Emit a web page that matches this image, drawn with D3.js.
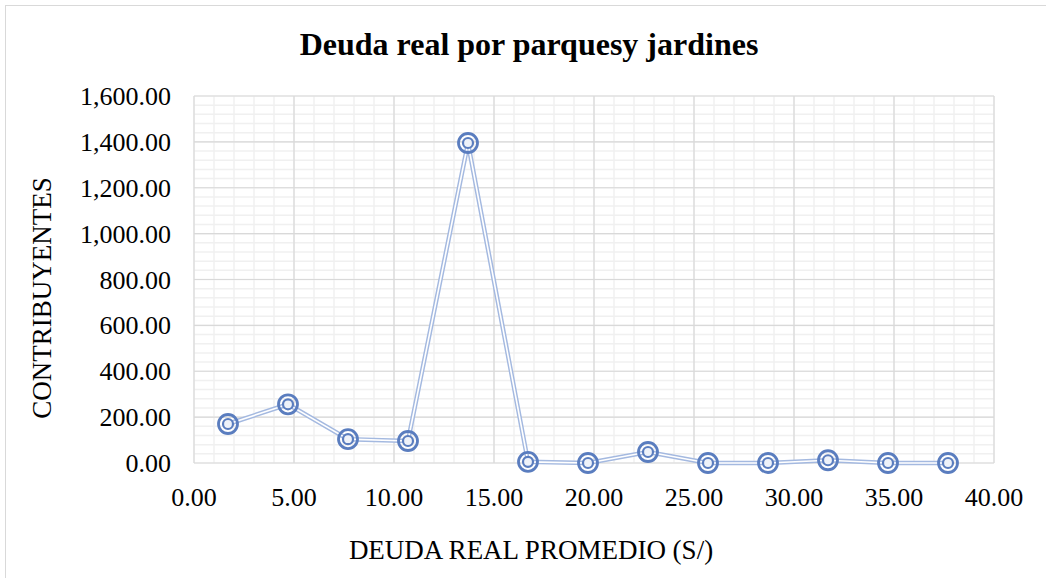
<!doctype html>
<html lang="es">
<head>
  <meta charset="utf-8">
  <title>Deuda real por parquesy jardines</title>
  <script src="https://cdnjs.cloudflare.com/ajax/libs/d3/7.8.5/d3.min.js"></script>
  <style>
    body { margin: 0; background: #fff; }
  </style>
</head>
<body>
  <svg width="1046" height="578" id="svg" font-family="'Liberation Serif', 'Times New Roman', 'DejaVu Serif', serif"></svg>
<script>
  // values
  var deuda = [1.7, 4.7, 7.7, 10.7, 13.7, 16.7, 19.7, 22.7, 25.7, 28.7, 31.7, 34.7, 37.7];
  var contribuyentes = [170, 256, 104, 96, 1395, 5, 0, 48, 0, 0, 12, 0, 0];
  var xTicks = [0, 5, 10, 15, 20, 25, 30, 35, 40];
  var yTicks = [0, 200, 400, 600, 800, 1000, 1200, 1400, 1600];

  var svg = d3.select('#svg');
  var pLeft = 194, pRight = 994, pTop = 96, pBottom = 463;

  // chart border
  svg.append('rect').attr('x', 5.5).attr('y', 5.5).attr('width', 1060).attr('height', 600)
    .attr('fill', 'none').attr('stroke', '#d9d9d9').attr('stroke-width', 1);

  var x = d3.scaleLinear().domain([0, 40]).range([pLeft, pRight]);
  var y = d3.scaleLinear().domain([0, 1600]).range([pBottom, pTop]);

  var fmt = d3.format(',.2f');

  // minor grid
  var g = svg.append('g');
  g.selectAll('line.mx').data(d3.range(0, 41, 1)).enter().append('line')
    .attr('x1', d => x(d)).attr('x2', d => x(d)).attr('y1', pTop).attr('y2', pBottom)
    .attr('stroke', '#f0f0f0').attr('stroke-width', 1.5);
  g.selectAll('line.my').data(d3.range(0, 1601, 40)).enter().append('line')
    .attr('y1', d => y(d)).attr('y2', d => y(d)).attr('x1', pLeft).attr('x2', pRight)
    .attr('stroke', '#f0f0f0').attr('stroke-width', 1.5);
  // major grid
  g.selectAll('line.Mx').data(xTicks).enter().append('line')
    .attr('x1', d => x(d)).attr('x2', d => x(d)).attr('y1', pTop).attr('y2', pBottom)
    .attr('stroke', '#d9d9d9').attr('stroke-width', 1.2);
  g.selectAll('line.My').data(yTicks).enter().append('line')
    .attr('y1', d => y(d)).attr('y2', d => y(d)).attr('x1', pLeft).attr('x2', pRight)
    .attr('stroke', '#d9d9d9').attr('stroke-width', 1.2);

  // tick labels
  svg.selectAll('text.yt').data(yTicks).enter().append('text')
    .attr('x', 171).attr('y', d => y(d) + 9).attr('text-anchor', 'end')
    .attr('font-size', 26).text(d => fmt(d));
  svg.selectAll('text.xt').data(xTicks).enter().append('text')
    .attr('x', d => x(d)).attr('y', 506).attr('text-anchor', 'middle')
    .attr('font-size', 26).text(d => fmt(d));

  // titles
  svg.append('text').attr('x', 529).attr('y', 55).attr('text-anchor', 'middle')
    .attr('font-size', 32).attr('font-weight', 'bold').text('Deuda real por parquesy jardines');
  svg.append('text').attr('transform', 'translate(51,298) rotate(-90)').attr('text-anchor', 'middle')
    .attr('font-size', 27).text('CONTRIBUYENTES');
  svg.append('text').attr('x', 531).attr('y', 559).attr('text-anchor', 'middle')
    .attr('font-size', 27).text('DEUDA REAL PROMEDIO (S/)');

  // series: double line
  var pts = deuda.map((d, i) => [d, contribuyentes[i]]);
  var line = d3.line().x(d => x(d[0])).y(d => y(d[1]));
  svg.append('path').attr('d', line(pts)).attr('fill', 'none')
    .attr('stroke', '#a4b9e0').attr('stroke-width', 4.5);
  svg.append('path').attr('d', line(pts)).attr('fill', 'none')
    .attr('stroke', '#fff').attr('stroke-width', 1.6);

  // bullseye markers
  var m = svg.selectAll('g.mk').data(pts).enter().append('g')
    .attr('transform', d => 'translate(' + x(d[0]) + ',' + y(d[1]) + ')');
  m.append('circle').attr('r', 9.5).attr('fill', 'none').attr('stroke', '#5a7dbf').attr('stroke-width', 2.8);
  m.append('circle').attr('r', 5).attr('fill', '#eef2f9').attr('stroke', '#5a7dbf').attr('stroke-width', 2.2);
</script>
</body>
</html>
